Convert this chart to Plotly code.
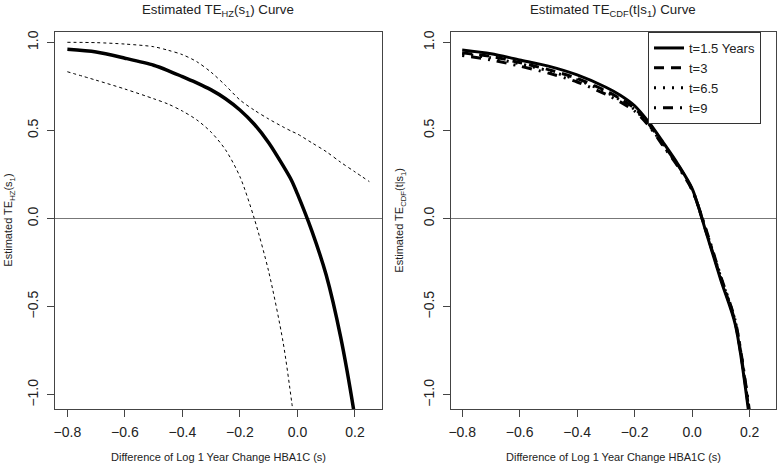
import plotly.graph_objects as go

# ---------------- data ----------------
s_left = [-0.8, -0.7, -0.6, -0.5, -0.45, -0.4, -0.35, -0.3, -0.25, -0.2, -0.15, -0.1, -0.05, -0.02, 0.0, 0.05, 0.1, 0.15, 0.2, 0.25]
te_hz = [0.96, 0.945, 0.91, 0.87, 0.84, 0.805, 0.77, 0.73, 0.68, 0.616, 0.535, 0.43, 0.30, 0.215, 0.14, -0.07, -0.32, -0.67, -1.13, -1.7]
te_hz_upper = [1.0, 0.998, 0.99, 0.975, 0.955, 0.93, 0.89, 0.83, 0.755, 0.673, 0.615, 0.565, 0.52, 0.495, 0.48, 0.43, 0.38, 0.32, 0.265, 0.21]
s_lower = [-0.8, -0.7, -0.6, -0.5, -0.45, -0.4, -0.35, -0.3, -0.25, -0.2, -0.15, -0.1, -0.05, -0.02, 0.0]
te_hz_lower = [0.833, 0.785, 0.735, 0.68, 0.65, 0.61, 0.56, 0.49, 0.39, 0.238, 0.0, -0.3, -0.7, -1.04, -1.3]

s_right = [-0.8, -0.7, -0.6, -0.5, -0.4, -0.3, -0.25, -0.2, -0.15, -0.1, -0.05, 0.0, 0.05, 0.1, 0.15, 0.2]
te_cdf_t15 = [0.956, 0.935, 0.90, 0.865, 0.815, 0.745, 0.70, 0.64, 0.545, 0.43, 0.31, 0.17, -0.085, -0.35, -0.60, -1.14]
te_cdf_t3 = [0.94, 0.92, 0.885, 0.845, 0.795, 0.725, 0.68, 0.625, 0.535, 0.42, 0.305, 0.165, -0.08, -0.34, -0.59, -1.12]
te_cdf_t65 = [0.935, 0.912, 0.878, 0.838, 0.787, 0.718, 0.672, 0.618, 0.53, 0.415, 0.30, 0.163, -0.075, -0.335, -0.585, -1.11]
te_cdf_t9 = [0.925, 0.90, 0.865, 0.825, 0.775, 0.705, 0.662, 0.61, 0.525, 0.41, 0.297, 0.162, -0.07, -0.33, -0.58, -1.10]
series_names = ["t=1.5 Years", "t=3", "t=6.5", "t=9"]

x_tickvals = [-0.8, -0.6, -0.4, -0.2, 0.0, 0.2]
x_ticktext = ["\u22120.8", "\u22120.6", "\u22120.4", "\u22120.2", "0.0", "0.2"]
y_tickvals = [-1.0, -0.5, 0.0, 0.5, 1.0]
y_ticktext = ["\u22121.0", "\u22120.5", "0.0", "0.5", "1.0"]

# ---------------- layout helpers ----------------
W, H = 777, 464
FONT = "Liberation Sans, Arial, Helvetica, sans-serif"
TXT = "#222222"


def px(x):
    return x / W


def py(y):
    return 1 - y / H


L_box = (55, 381.7)
R_box = (450.7, 775.5)
Y_box = (32, 409.3)

fig = go.Figure()

# left panel
fig.add_trace(go.Scatter(x=s_left, y=te_hz, mode="lines",
                         line=dict(color="black", width=3.5, shape="spline", smoothing=0.8),
                         xaxis="x", yaxis="y", showlegend=False))
fig.add_trace(go.Scatter(x=s_left, y=te_hz_upper, mode="lines",
                         line=dict(color="black", width=1, dash="3px,3px", shape="spline", smoothing=0.8),
                         xaxis="x", yaxis="y", showlegend=False))
fig.add_trace(go.Scatter(x=s_lower, y=te_hz_lower, mode="lines",
                         line=dict(color="black", width=1, dash="3px,3px", shape="spline", smoothing=0.8),
                         xaxis="x", yaxis="y", showlegend=False))

# right panel
styles = ["solid", "10px,7px", "2px,7px", "2px,7px,10px,7px"]
for name, vals, dash in zip(series_names, [te_cdf_t15, te_cdf_t3, te_cdf_t65, te_cdf_t9], styles):
    fig.add_trace(go.Scatter(x=s_right, y=vals, mode="lines", name=name,
                             line=dict(color="black", width=3, dash=dash, shape="spline", smoothing=0.8),
                             xaxis="x2", yaxis="y2"))

axis_common = dict(showgrid=False, showline=True, linecolor="#444444", linewidth=1, mirror=True,
                   ticks="outside", ticklen=7, tickcolor="#444444", tickwidth=1,
                   tickfont=dict(family=FONT, size=14, color=TXT), automargin=False)

yr = [(218.6 - Y_box[1]) / 176.3, (218.6 - Y_box[0]) / 176.3]

fig.update_layout(
    width=W, height=H,
    margin=dict(l=0, r=0, t=0, b=0),
    paper_bgcolor="white", plot_bgcolor="white",
    font=dict(family=FONT, color=TXT),
    xaxis=dict(domain=[px(L_box[0]), px(L_box[1])], range=[-0.843, 0.293],
               tickvals=x_tickvals, ticktext=x_ticktext, zeroline=False, anchor="y",
               ticklabelstandoff=3, **axis_common),
    yaxis=dict(domain=[py(Y_box[1]), py(Y_box[0])], range=yr,
               tickvals=y_tickvals, ticktext=y_ticktext, tickangle=-90, anchor="x",
               ticklabelstandoff=3,
               zeroline=True, zerolinecolor="#777777", zerolinewidth=1, **axis_common),
    xaxis2=dict(domain=[px(R_box[0]), px(R_box[1])], range=[-0.840, 0.290],
                tickvals=x_tickvals, ticktext=x_ticktext, zeroline=False, anchor="y2",
                ticklabelstandoff=3, **axis_common),
    yaxis2=dict(domain=[py(Y_box[1]), py(Y_box[0])], range=yr,
                tickvals=y_tickvals, ticktext=y_ticktext, tickangle=-90, anchor="x2",
                ticklabelstandoff=3,
                zeroline=True, zerolinecolor="#777777", zerolinewidth=1, **axis_common),
    legend=dict(x=px(648), y=py(Y_box[0]), xanchor="left", yanchor="top",
                bordercolor="#333333", borderwidth=1, bgcolor="white",
                font=dict(family=FONT, size=13, color=TXT), tracegroupgap=0),
    showlegend=True,
)

ann = [
    dict(text="Estimated TE<sub>HZ</sub>(s<sub>1</sub>) Curve", x=px(sum(L_box) / 2), y=py(10), size=13.3, angle=0),
    dict(text="Estimated TE<sub>CDF</sub>(t|s<sub>1</sub>) Curve", x=px(sum(R_box) / 2), y=py(10), size=13.3, angle=0),
    dict(text="Difference of Log 1 Year Change HBA1C (s)", x=px(sum(L_box) / 2), y=py(457), size=11, angle=0),
    dict(text="Difference of Log 1 Year Change HBA1C (s)", x=px(sum(R_box) / 2), y=py(457), size=11, angle=0),
    dict(text="Estimated TE<sub>HZ</sub>(s<sub>1</sub>)", x=px(9), y=py(sum(Y_box) / 2), size=11, angle=-90),
    dict(text="Estimated TE<sub>CDF</sub>(t|s<sub>1</sub>)", x=px(400), y=py(sum(Y_box) / 2), size=11, angle=-90),
]
for a in ann:
    fig.add_annotation(text=a["text"], x=a["x"], y=a["y"], xref="paper", yref="paper",
                       xanchor="center", yanchor="middle", showarrow=False, textangle=a["angle"],
                       font=dict(family=FONT, size=a["size"], color=TXT))

fig.write_html("out.html", config={"displayModeBar": False},
               post_script="document.body.style.margin='0';document.body.style.overflow='hidden';")
